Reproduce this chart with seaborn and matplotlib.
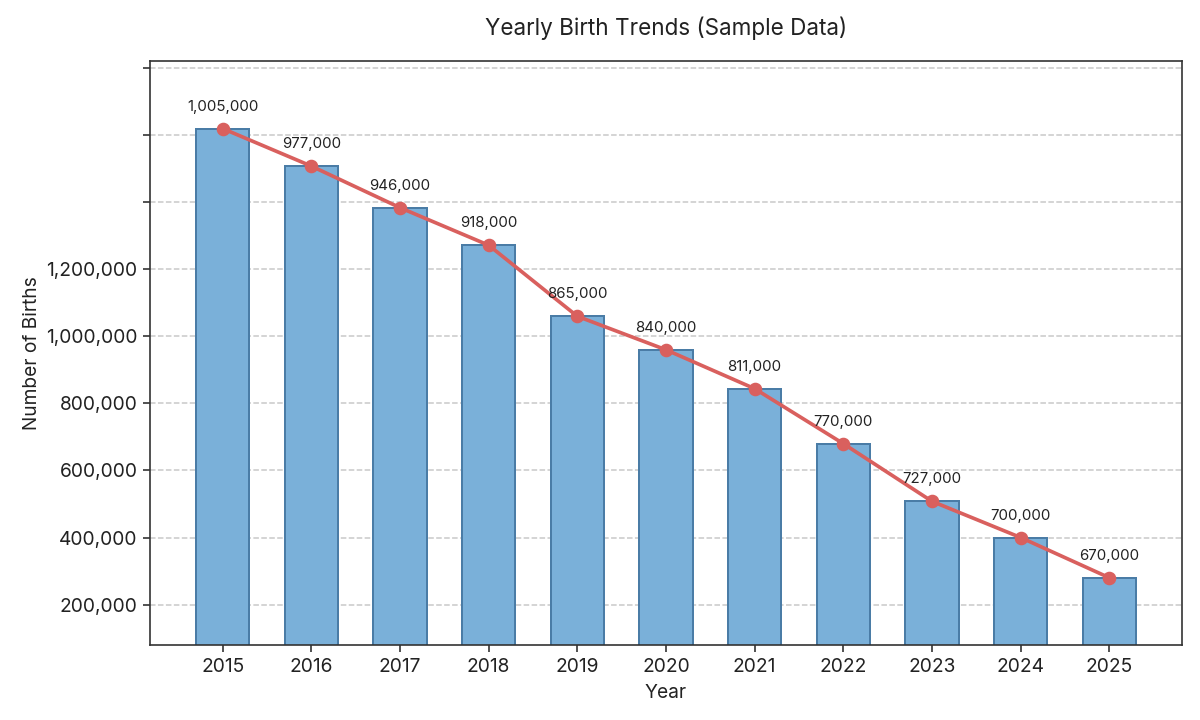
import matplotlib
matplotlib.use("Agg")
import matplotlib.pyplot as plt
import seaborn as sns
import pandas as pd

years = ["2015", "2016", "2017", "2018", "2019", "2020", "2021", "2022", "2023", "2024", "2025"]
births = [1005000, 977000, 946000, 918000, 865000, 840000, 811000, 770000, 727000, 700000, 670000]
ytick_values = [650000, 700000, 750000, 800000, 850000, 900000, 950000, 1000000, 1050000]
ytick_labels = ["200,000", "400,000", "600,000", "800,000", "1,000,000", "1,200,000", "", "", ""]

df = pd.DataFrame({"Year": years, "Births": births})

sns.set_theme(style="white")
plt.rcParams["font.family"] = ["Inter", "DejaVu Sans"]

fig = plt.figure(figsize=(10, 6), dpi=120)
ax = fig.add_axes([0.125, 0.104, 0.86, 0.811])

sns.barplot(data=df, x="Year", y="Births", color="#7ab0d9", saturation=1,
            edgecolor="#4a7ca6", linewidth=1.2, width=0.6, ax=ax, zorder=2)
sns.pointplot(data=df, x="Year", y="Births", color="#d9605e", markers="o",
              linestyles="-", errorbar=None, ax=ax, markersize=6.5, linewidth=2.2)
for c in ax.collections:
    c.set_zorder(4)
for l in ax.lines:
    l.set_zorder(3)

for i, v in enumerate(births):
    ax.annotate(f"{v:,}", (i, v), xytext=(0, 9), textcoords="offset points",
                ha="center", va="bottom", fontsize=9, color="#222222")

ax.set_xlim(-0.82, 10.82)
ax.set_ylim(619750, 1055250)
ax.set_yticks(ytick_values)
ax.set_yticklabels(ytick_labels)
ax.yaxis.grid(True, linestyle="--", color="#c8c8c8", linewidth=0.9, zorder=0)
ax.xaxis.grid(False)
ax.set_axisbelow(True)

ax.tick_params(axis="both", which="both", direction="out", length=4, width=1,
               color="#333333", labelsize=11.5, labelcolor="#222222", left=True, bottom=True)
for s in ax.spines.values():
    s.set_visible(True)
    s.set_color("#333333")
    s.set_linewidth(1.0)

ax.set_xlabel("Year", fontsize=11.5, color="#222222", labelpad=5)
ax.set_ylabel("Number of Births", fontsize=11.5, color="#222222", labelpad=3)
ax.set_title("Yearly Birth Trends (Sample Data)", fontsize=13.5, color="#222222", pad=16)

fig.savefig("out.png", dpi=120)
